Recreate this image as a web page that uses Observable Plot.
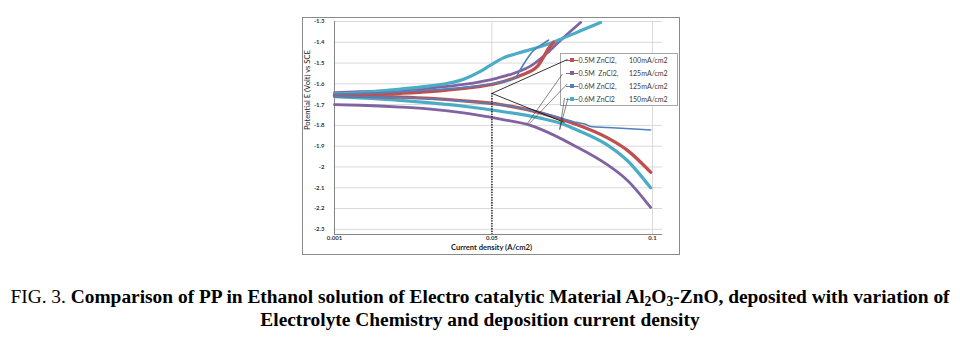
<!DOCTYPE html>
<html><head><meta charset="utf-8">
<script src="https://cdn.jsdelivr.net/npm/d3@7"></script>
<script src="https://cdn.jsdelivr.net/npm/@observablehq/plot@0.6"></script>
<style>
html,body{margin:0;padding:0;background:#fff;}
body{width:960px;height:346px;position:relative;overflow:hidden;}
#frame{position:absolute;left:302px;top:17px;width:378px;height:238px;box-sizing:border-box;border:1px solid #8a8a8a;}
.layer{position:absolute;left:0;top:0;}
#legend{position:absolute;left:560px;top:53px;width:118px;height:53px;box-sizing:border-box;border:1px solid #a6a6a6;background:#fff;font-family:Lato,sans-serif;font-size:7px;color:#404040;}
#legend .row{position:absolute;left:0;width:116px;height:9px;}
#legend .sw{position:absolute;left:5px;top:4px;width:12px;height:1.5px;}
#legend .mk{position:absolute;left:9px;top:2.5px;width:4px;height:4px;}
#legend .t1{position:absolute;left:17.5px;top:0;line-height:9px;white-space:pre;}
#legend .t2{position:absolute;left:68px;top:0;line-height:9px;white-space:pre;}
#caption{position:absolute;left:0;top:285px;width:960px;text-align:center;font-family:"Liberation Serif",serif;font-weight:bold;font-size:19.4px;line-height:23px;color:#000;white-space:nowrap;}
#caption .n{font-weight:normal;}
#caption sub{font-size:0.7em;line-height:0;vertical-align:-0.25em;}
</style>
</head><body>
<div id="frame"></div>
<div id="bg" class="layer"></div>
<div id="legend"></div>
<div id="fg" class="layer"></div>
<div id="caption"><span class="n">FIG. 3.</span> Comparison of PP in Ethanol solution of Electro catalytic Material Al<sub>2</sub>O<sub>3</sub>-ZnO, deposited with variation of<br>Electrolyte Chemistry and deposition current density</div>
<script>
// ---- data ----
const xTicks = [0.001, 0.05, 0.1];
const yTicks = [-1.3, -1.4, -1.5, -1.6, -1.7, -1.8, -1.9, -2, -2.1, -2.2, -2.3];
const xDomain = [0.001, 0.1031];
const yDomain = [-2.325, -1.3];
const xLabel = "Current density (A/cm2)";
const yLabel = "Potential E (Volt) vs SCE";
const electrolyte = ["0.5M ZnCl2,", "0.5M  ZnCl2,", "0.6M ZnCl2,", "0.6M ZnCl2"];
const density = ["100mA/cm2", "125mA/cm2", "125mA/cm2", "150mA/cm2"];

const redAnodic = [[0.001,-1.655],[0.0091,-1.652],[0.0215,-1.645],[0.0309,-1.637],[0.0412,-1.622],[0.0517,-1.597],[0.0589,-1.56],[0.0642,-1.515],[0.0661,-1.47],[0.0676,-1.43],[0.0692,-1.40]];
const redCathodic = [[0.001,-1.658],[0.0091,-1.66],[0.0215,-1.664],[0.0309,-1.67],[0.0412,-1.682],[0.0527,-1.70],[0.0651,-1.74],[0.0754,-1.79],[0.086,-1.86],[0.0922,-1.92],[0.0994,-2.025]];
const purpleAnodic = [[0.001,-1.642],[0.0091,-1.638],[0.0215,-1.63],[0.0309,-1.62],[0.0412,-1.603],[0.0517,-1.572],[0.0567,-1.55],[0.062,-1.515],[0.0673,-1.45],[0.0714,-1.39],[0.0776,-1.305]];
const purpleCathodic = [[0.001,-1.70],[0.0091,-1.703],[0.0215,-1.712],[0.0309,-1.722],[0.0412,-1.74],[0.0527,-1.77],[0.062,-1.80],[0.0651,-1.818],[0.0754,-1.895],[0.086,-1.99],[0.0922,-2.065],[0.0994,-2.195]];
const blueAnodic = [[0.001,-1.65],[0.0091,-1.647],[0.0215,-1.638],[0.0309,-1.63],[0.0412,-1.617],[0.0517,-1.595],[0.0573,-1.57],[0.0589,-1.53],[0.0605,-1.49],[0.0629,-1.44],[0.0651,-1.415],[0.0676,-1.39]];
const blueCathodic = [[0.001,-1.66],[0.0091,-1.662],[0.0215,-1.666],[0.0309,-1.672],[0.0412,-1.683],[0.0527,-1.70],[0.0651,-1.738],[0.0754,-1.782],[0.0791,-1.795],[0.0807,-1.805],[0.086,-1.81],[0.0994,-1.822]];
const cyanAnodic = [[0.001,-1.648],[0.0091,-1.643],[0.0215,-1.625],[0.0309,-1.61],[0.0412,-1.578],[0.0464,-1.54],[0.0496,-1.51],[0.0536,-1.475],[0.058,-1.453],[0.062,-1.435],[0.0673,-1.41],[0.0714,-1.385],[0.0776,-1.345],[0.0838,-1.305]];
const cyanCathodic = [[0.001,-1.662],[0.0091,-1.668],[0.0215,-1.68],[0.0309,-1.692],[0.0412,-1.708],[0.0527,-1.732],[0.0651,-1.765],[0.0714,-1.79],[0.0754,-1.815],[0.086,-1.895],[0.0922,-1.97],[0.0994,-2.10]];

// Tafel extrapolation: intersection point and tangent ends
const icorrPoint = [[0.05, -1.646]];
const tafelEnds = [[0.0735, -1.483], [0.0726, -1.786]];
// legend call-out leader lines [from, to]
const leaderLines = [
  [[0.0720, -1.552], [0.0611, -1.79]],
  [[0.0735, -1.600], [0.0617, -1.79]],
  [[0.0726, -1.668], [0.0711, -1.82]],
  [[0.0737, -1.668], [0.0711, -1.82]]
];

// ---- styles ----
const palette = ["#c0504d", "#8064a2", "#4f81bd", "#4bacc6"];
const seriesData = [
  [redAnodic, redCathodic], [purpleAnodic, purpleCathodic], [blueAnodic, blueCathodic], [cyanAnodic, cyanCathodic]
];
const widths = [3.4, 2.8, 1.6, 3.2];
const drawOrder = [1, 3, 0, 2];

const rows = [];
seriesData.forEach((branches, i) => branches.forEach((pts, b) => pts.forEach(([x, y]) => rows.push({s: i, key: i + "-" + b, x, y}))));

const common = {
  width: 960, height: 260,
  marginLeft: 334, marginRight: 298, marginTop: 21, marginBottom: 26,
  x: {type: "linear", domain: xDomain},
  y: {type: "linear", domain: yDomain},
  style: {background: "transparent", fontFamily: "Lato, sans-serif"}
};
const fmt = d => String(d);

const bg = Plot.plot({
  ...common,
  marks: [
    Plot.gridY(yTicks, {stroke: "#d9d9d9", strokeOpacity: 1}),
    Plot.gridX(xTicks.slice(1), {stroke: "#d9d9d9", strokeOpacity: 1}),
    Plot.ruleX(xTicks.slice(0, 1), {stroke: "#868686"}),
    Plot.ruleY(yDomain.slice(0, 1), {stroke: "#868686"}),
    Plot.axisY(yTicks, {tickSize: 0, tickPadding: 10, fontSize: 6, fontWeight: "bold", fill: "#333", tickFormat: fmt, label: null}),
    Plot.axisX(xTicks, {tickSize: 0, tickPadding: 1, fontSize: 6, fontWeight: "bold", fill: "#333", tickFormat: fmt, label: null}),
    Plot.text([yLabel], {frameAnchor: "left", rotate: -90, dx: -27, dy: 2, text: d => d, fontSize: 7.6, fill: "#222"}),
    Plot.text([xLabel], {frameAnchor: "bottom", dx: -7, dy: 15, text: d => d, fontSize: 7.6, fontWeight: "bold", fill: "#222"})
  ]
});
document.getElementById("bg").appendChild(bg);

const fgMarks = [];
drawOrder.forEach(i => {
  fgMarks.push(Plot.line(rows.filter(r => r.s === i), {x: "x", y: "y", z: "key", stroke: palette[i], strokeWidth: widths[i], curve: "monotone-x"}));
});
const tafel = tafelEnds.map(e => ({x1: icorrPoint[0][0], y1: icorrPoint[0][1], x2: e[0], y2: e[1]}));
fgMarks.push(Plot.link(tafel, {x1: "x1", y1: "y1", x2: "x2", y2: "y2", stroke: "#000", strokeWidth: 0.8}));
fgMarks.push(Plot.ruleX(icorrPoint, {x: d => d[0], y1: d => d[1], y2: yDomain[0], stroke: "#000", strokeWidth: 1.3, strokeDasharray: "1.3,1.3"}));
fgMarks.push(Plot.link(leaderLines, {x1: d => d[0][0], y1: d => d[0][1], x2: d => d[1][0], y2: d => d[1][1], stroke: "#333", strokeWidth: 0.6}));

const fg = Plot.plot({...common, x: {...common.x, axis: null}, y: {...common.y, axis: null}, marks: fgMarks});
document.getElementById("fg").appendChild(fg);

// legend
const legend = document.getElementById("legend");
electrolyte.forEach((e, i) => {
  const row = document.createElement("div");
  row.className = "row";
  row.style.top = (1.5 + i * 13) + "px";
  row.innerHTML = `<div class="sw" style="background:${palette[i]}"></div><div class="mk" style="background:${palette[i]}"></div><span class="t1"></span><span class="t2"></span>`;
  row.querySelector(".t1").textContent = e;
  row.querySelector(".t2").textContent = density[i];
  legend.appendChild(row);
});
</script>
</body></html>
